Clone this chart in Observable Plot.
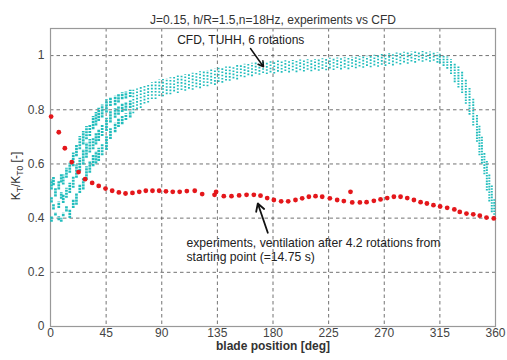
<!DOCTYPE html>
<html>
<head>
<meta charset="utf-8">
<script src="https://cdn.jsdelivr.net/npm/d3@7"></script>
<script src="https://cdn.jsdelivr.net/npm/@observablehq/plot@0.6"></script>
<style>
  html, body { margin: 0; padding: 0; background: #fff; }
  #chart svg { display: block; font-family: "Liberation Sans", Arial, sans-serif; }
</style>
</head>
<body>
<div id="chart"></div>
<script>
// ---- Data ----
const titleText = "J=0.15, h/R=1.5,n=18Hz, experiments vs CFD";
const xLabel = "blade position [deg]";
const xTicks = [0, 45, 90, 135, 180, 225, 270, 315, 360];
const yTicks = [0, 0.2, 0.4, 0.6, 0.8, 1];
const yTickLabels = ["0", "0.2", "0.4", "0.6", "0.8", "1"];

// Experiments (red dots): blade position [deg], KT/KT0
const expDeg = [0.5, 6.7, 11.6, 17.2, 22.7, 28.0, 33.7, 39.0, 44.5, 49.9, 55.3, 60.7, 66.3, 71.8, 77.1, 82.5, 87.9, 93.4, 98.9, 104.5, 110.3, 116.7, 122.7, 132.7, 134.0, 140.2, 146.4, 152.6, 158.6, 164.5, 169.9, 175.3, 180.7, 186.6, 192.3, 198.2, 203.6, 209.0, 214.4, 219.8, 226.0, 231.9, 237.3, 242.7, 244.1, 250.3, 255.7, 261.6, 267.0, 272.4, 277.8, 283.2, 288.6, 294.0, 299.4, 304.5, 309.8, 315.2, 320.9, 326.7, 331.1, 336.5, 342.0, 347.3, 352.7, 358.6];
const expVal = [0.775, 0.717, 0.658, 0.607, 0.570, 0.544, 0.530, 0.519, 0.509, 0.501, 0.495, 0.491, 0.493, 0.497, 0.501, 0.501, 0.501, 0.499, 0.497, 0.497, 0.500, 0.501, 0.489, 0.486, 0.497, 0.481, 0.481, 0.484, 0.486, 0.486, 0.483, 0.474, 0.467, 0.462, 0.462, 0.467, 0.473, 0.479, 0.481, 0.479, 0.473, 0.467, 0.463, 0.497, 0.458, 0.458, 0.459, 0.464, 0.469, 0.474, 0.479, 0.479, 0.474, 0.467, 0.459, 0.454, 0.448, 0.443, 0.438, 0.432, 0.423, 0.417, 0.414, 0.409, 0.402, 0.399];

// CFD (6 rotations), rising part: short vertical dashes [deg, low, high]
const cfdRise = [
  [0.8,0.504,0.541],[0.8,0.456,0.478],[0.8,0.385,0.404],
  [2.4,0.520,0.550],[2.4,0.430,0.450],
  [4.0,0.478,0.511],[4.0,0.408,0.420],
  [6.7,0.504,0.534],[6.7,0.436,0.460],[6.7,0.390,0.405],
  [8.7,0.530,0.560],[8.7,0.470,0.495],[8.7,0.385,0.400],
  [10.3,0.522,0.559],[10.3,0.454,0.485],[10.3,0.405,0.418],
  [12.9,0.547,0.584],[12.9,0.473,0.510],[12.9,0.423,0.442],
  [15.6,0.566,0.603],[15.6,0.491,0.529],[15.6,0.399,0.430],
  [18.4,0.590,0.640],[18.4,0.510,0.553],[18.4,0.436,0.467],
  [21.0,0.627,0.670],[21.0,0.547,0.596],[21.0,0.448,0.491],
  [23.7,0.652,0.701],[23.7,0.571,0.621],[23.7,0.491,0.522],
  [26.5,0.670,0.720],[26.5,0.596,0.652],[26.5,0.504,0.547],
  [29.1,0.689,0.738],[29.1,0.621,0.677],[29.1,0.541,0.590],
  [31.8,0.701,0.745],[31.8,0.640,0.690],[31.8,0.566,0.610],
  [34.5,0.726,0.775],[34.5,0.652,0.695],[34.5,0.590,0.633],
  [36.8,0.740,0.790],[36.8,0.670,0.712],[36.8,0.600,0.645],
  [39.0,0.757,0.806],[39.0,0.683,0.726],[39.0,0.609,0.658],
  [41.8,0.770,0.818],[41.8,0.701,0.744],[41.8,0.630,0.675],
  [45.3,0.788,0.837],[45.3,0.720,0.769],[45.3,0.650,0.700],
  [48.5,0.812,0.845],[48.5,0.751,0.795],[48.5,0.690,0.730],
  [52.3,0.815,0.850],[52.3,0.769,0.805],[52.3,0.715,0.750],
  [55.0,0.825,0.855],[55.0,0.780,0.812],[55.0,0.735,0.765],
  [58.0,0.837,0.863],[58.0,0.790,0.822],[58.0,0.745,0.775],
  [61.0,0.840,0.866],[61.0,0.795,0.825],[61.0,0.760,0.785],
  [64.5,0.845,0.872],[64.5,0.805,0.832],[64.5,0.770,0.795]
];

// CFD main band: dotted columns [deg, low, high]
const cfdBand = [
  [67,0.785,0.872],[70,0.795,0.877],[73,0.805,0.882],[76,0.815,0.887],[79,0.825,0.895],
  [82,0.832,0.900],[85,0.838,0.905],[88,0.843,0.910],[91,0.848,0.912],[94,0.850,0.915],
  [97,0.855,0.918],[100,0.860,0.920],[103,0.860,0.925],[106,0.865,0.928],[109,0.868,0.930],
  [112,0.870,0.932],[115,0.872,0.935],[118,0.875,0.937],[121,0.878,0.940],[124,0.880,0.942],
  [127,0.885,0.945],[130,0.888,0.948],[133,0.890,0.950],[136,0.895,0.953],[139,0.898,0.955],
  [142,0.900,0.958],[145,0.905,0.960],[148,0.908,0.962],[151,0.910,0.965],[154,0.915,0.967],
  [157,0.918,0.968],[160,0.920,0.970],[163,0.922,0.972],[166,0.925,0.973],[169,0.927,0.975],
  [172,0.928,0.975],[175,0.930,0.977],[178,0.930,0.978],[181,0.932,0.978],[184,0.933,0.980],
  [187,0.935,0.980],[190,0.935,0.981],[193,0.936,0.981],[196,0.937,0.982],[199,0.937,0.983],
  [202,0.938,0.984],[205,0.939,0.984],[208,0.940,0.985],[211,0.940,0.986],[214,0.941,0.986],
  [217,0.942,0.987],[220,0.943,0.988],[223,0.944,0.989],[226,0.945,0.990],[229,0.945,0.990],
  [232,0.946,0.991],[235,0.947,0.992],[238,0.947,0.992],[241,0.948,0.993],[244,0.950,0.994],
  [247,0.951,0.995],[250,0.952,0.996],[253,0.953,0.997],[256,0.954,0.998],[259,0.955,1.000],
  [262,0.956,1.001],[265,0.957,1.003],[268,0.958,1.004],[271,0.960,1.006],[274,0.961,1.007],
  [277,0.962,1.008],[280,0.964,1.010],[283,0.965,1.011],[286,0.967,1.012],[289,0.968,1.012],
  [292,0.970,1.013],[295,0.972,1.014],[298,0.974,1.015],[301,0.975,1.015],[304,0.975,1.015],
  [307,0.975,1.013],[310,0.973,1.011],[313,0.972,1.010]
];

// CFD drop near 360 deg: dotted columns [deg, low, high]
const cfdFall = [
  [315,0.970,1.005],[318,0.960,1.000],[321,0.950,0.995],[324,0.930,0.985],[327,0.900,0.970],
  [330,0.880,0.960],[333,0.860,0.940],[336,0.820,0.910],[339,0.780,0.880],[342,0.740,0.840],
  [345,0.680,0.780],[347,0.630,0.740],[349,0.600,0.700],[351,0.560,0.640],[353,0.500,0.610],
  [355,0.460,0.560],[357,0.420,0.520],[359,0.400,0.470]
];

// Annotations
const cfdNote = {text: "CFD, TUHH, 6 rotations", x: 102.5, y: 1.056};
const cfdArrow = {x1: 161.8, y1: 1.026, x2: 172.3, y2: 0.959};
const expNote = [
  {text: "experiments, ventilation after 4.2 rotations from", x: 110, y: 0.307},
  {text: "starting point (=14.75 s)", x: 110, y: 0.256}
];
const expArrow = {x1: 175.8, y1: 0.346, x2: 167.7, y2: 0.454};

// ---- Build ----
const experiments = expDeg.map((d, i) => ({deg: d, val: expVal[i]}));
const toDash = a => ({deg: a[0], lo: a[1], hi: a[2]});
const bandEven = cfdBand.filter((_, i) => i % 2 === 0).map(toDash);
const bandOdd = cfdBand.filter((_, i) => i % 2 === 1).map(toDash);
const cyan = "#22bdbd";
const font = "'Liberation Sans', Arial, sans-serif";

const chart = Plot.plot({
  width: 507,
  height: 360,
  marginLeft: 50,
  marginRight: 12,
  marginTop: 28,
  marginBottom: 34,
  style: {fontFamily: font, background: "#fff"},
  x: {domain: [0, 360]},
  y: {domain: [0, 1.1]},
  marks: [
    Plot.gridX(xTicks.filter(d => d > 0 && d < 360), {stroke: "#444", strokeOpacity: 0.75, strokeDasharray: "3.5,3"}),
    Plot.gridY(yTicks.filter(d => d > 0), {stroke: "#444", strokeOpacity: 0.75, strokeDasharray: "3.5,3"}),
    Plot.frame({stroke: "#999", strokeWidth: 1.2}),
    Plot.axisX({ticks: xTicks, tickSize: 0, tickPadding: 2, fontSize: 12, label: null, color: "#444"}),
    Plot.axisY({ticks: yTicks, tickSize: 0, tickPadding: 6, fontSize: 12, label: null, color: "#444",
      tickFormat: d => yTickLabels[yTicks.indexOf(d)]}),
    Plot.ruleX(cfdRise.map(toDash), {x: "deg", y1: "lo", y2: "hi", stroke: cyan, strokeWidth: 2.7, strokeDasharray: "2.2,0.8"}),
    Plot.ruleX(bandEven, {x: "deg", y1: "lo", y2: "hi", stroke: cyan, strokeWidth: 1.9, strokeDasharray: "1.6,1.6"}),
    Plot.ruleX(bandOdd, {x: "deg", y1: "lo", y2: "hi", stroke: cyan, strokeWidth: 1.9, strokeDasharray: "1.6,1.6", strokeDashoffset: 1.6}),
    Plot.ruleX(cfdFall.map(toDash), {x: "deg", y1: "lo", y2: "hi", stroke: cyan, strokeWidth: 2.0, strokeDasharray: "1.6,1.2"}),
    Plot.dot(experiments, {x: "deg", y: "val", r: 2.4, fill: "#e4171b", stroke: "none"}),
    Plot.arrow([cfdArrow], {x1: "x1", y1: "y1", x2: "x2", y2: "y2", stroke: "#111", strokeWidth: 1.5, headLength: 6, bend: 0}),
    Plot.arrow([expArrow], {x1: "x1", y1: "y1", x2: "x2", y2: "y2", stroke: "#111", strokeWidth: 1.8, headLength: 7, bend: 0}),
    Plot.text([cfdNote], {x: "x", y: "y", text: "text", textAnchor: "start", fontSize: 12, fill: "#222"}),
    Plot.text(expNote, {x: "x", y: "y", text: "text", textAnchor: "start", fontSize: 12.2, fill: "#222"}),
    Plot.text([titleText], {frameAnchor: "top", dy: -13, fontSize: 12, fill: "#333"}),
    Plot.text([xLabel], {frameAnchor: "bottom", dy: 23, fontSize: 12, fontWeight: "bold", fill: "#333"})
  ]
});

// Y axis label with subscripts (real text)
const ylab = d3.select(chart).append("text")
  .attr("transform", "translate(20,176) rotate(-90)")
  .attr("text-anchor", "middle")
  .attr("font-size", 12)
  .attr("fill", "#333")
  .attr("font-family", font);
ylab.append("tspan").text("K");
ylab.append("tspan").attr("dy", 3).attr("font-size", 8.5).text("T");
ylab.append("tspan").attr("dy", -3).text("/K");
ylab.append("tspan").attr("dy", 3).attr("font-size", 8.5).text("T0");
ylab.append("tspan").attr("dy", -3).text(" [-]");

document.getElementById("chart").appendChild(chart);
</script>
</body>
</html>
